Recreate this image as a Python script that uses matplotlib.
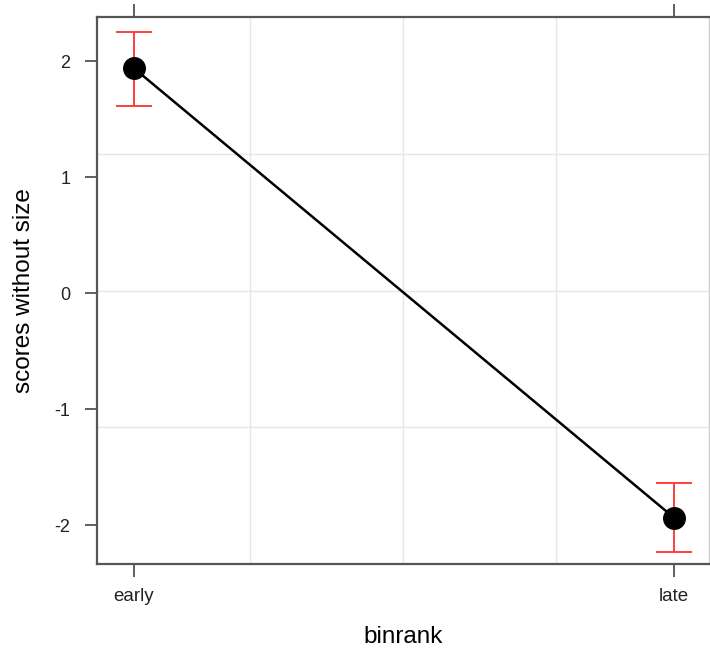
import numpy as np
import matplotlib
matplotlib.use("Agg")
import matplotlib.pyplot as plt

# data
groups = ["early", "late"]
means = [1.94, -1.934]
upper = [2.255, -1.633]
lower = [1.615, -2.228]
yticks = [-2, -1, 0, 1, 2]

plt.rcParams['font.family'] = ['Liberation Sans', 'DejaVu Sans']

fig = plt.figure(figsize=(7.1, 6.5), dpi=100)
ax = fig.add_axes([0.1366, 0.1323, 0.862, 0.8415])

x = np.arange(1, len(groups) + 1)
means = np.array(means)
err = [means - np.array(lower), np.array(upper) - means]

ax.set_xlim(0.9315, 2.065)
ax.set_ylim(-2.334, 2.382)

# lattice style grid: panel split in quarters
for f in [0.25, 0.5, 0.75]:
    ax.axvline(ax.get_xlim()[0] + f * (ax.get_xlim()[1] - ax.get_xlim()[0]),
               color='#e6e6e6', lw=1, zorder=0)
    ax.axhline(ax.get_ylim()[0] + f * (ax.get_ylim()[1] - ax.get_ylim()[0]),
               color='#e6e6e6', lw=1, zorder=0)

ax.errorbar(x, means, yerr=err, fmt='none', ecolor='#ff3030', elinewidth=1.3,
            capsize=13, capthick=1.3, zorder=2)
ax.plot(x, means, color='black', lw=1.8, marker='o', markersize=15.5, zorder=3)

ax.set_xticks(x)
ax.set_xticklabels(groups, fontsize=13.5, color='#222222')
ax.set_yticks(yticks)
ax.set_yticklabels([str(t) for t in yticks], fontsize=13, color='#222222')
ax.tick_params(axis='x', top=True, bottom=True, direction='out', length=9.5,
               width=1.2, color='#444444', pad=8)
ax.tick_params(axis='y', left=True, right=False, direction='out', length=9,
               width=1.2, color='#444444', pad=10)

for side in ['left', 'top', 'bottom']:
    ax.spines[side].set_color('#555555')
    ax.spines[side].set_linewidth(1.6)
ax.spines['right'].set_color('#cccccc')
ax.spines['right'].set_linewidth(1)

ax.set_xlabel('binrank', fontsize=17.5, labelpad=15)
ax.set_ylabel('scores without size', fontsize=17.5, labelpad=14)

fig.savefig('out.png', dpi=100)
